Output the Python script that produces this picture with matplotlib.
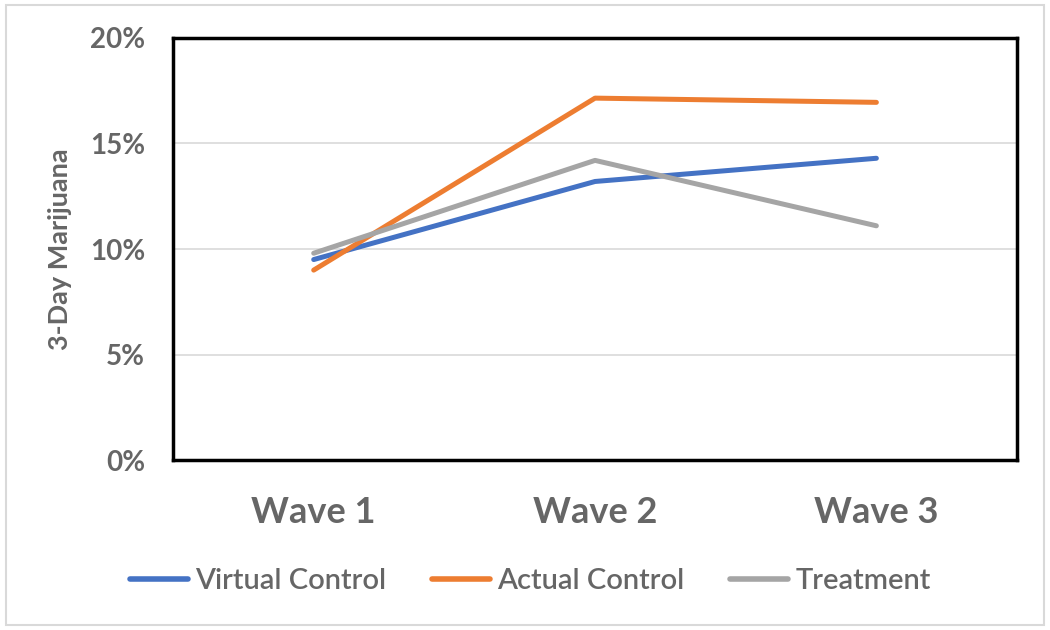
import matplotlib
matplotlib.use("Agg")
from matplotlib import pyplot as plt
from matplotlib.patches import Rectangle
from matplotlib.ticker import FuncFormatter

plt.rcParams['font.family'] = ['Lato', 'DejaVu Sans']

# data
waves = ['Wave 1', 'Wave 2', 'Wave 3']
virtual_control = [9.5, 13.2, 14.3]
actual_control = [9.0, 17.15, 16.95]
treatment = [9.8, 14.2, 11.1]

series_names = ['Virtual Control', 'Actual Control', 'Treatment']
colors = ['#4472C4', '#ED7D31', '#A5A5A5']
text_gray = '#666666'

fig = plt.figure(figsize=(10.5, 6.3), dpi=100)
ax = fig.add_axes([0.1648, 0.2698, 0.8038, 0.6699])

x = range(len(waves))
for vals, name, c in zip([virtual_control, actual_control, treatment], series_names, colors):
    ax.plot(x, vals, color=c, lw=3.6, label=name, solid_capstyle='round')

ax.set_xlim(-0.5, 2.5)
ax.set_ylim(0, 20)
ax.set_yticks([0, 5, 10, 15, 20])
ax.yaxis.set_major_formatter(FuncFormatter(lambda v, p: f'{v:.0f}%'))
ax.set_xticks(list(x))
ax.set_xticklabels(waves)
ax.grid(axis='y', color='#D9D9D9', lw=1.2)
ax.set_axisbelow(True)
ax.tick_params(axis='both', length=0)
ax.tick_params(axis='y', labelsize=20, labelcolor=text_gray, pad=20)
ax.tick_params(axis='x', labelsize=26, labelcolor=text_gray, pad=26)
for lab in ax.get_xticklabels() + ax.get_yticklabels():
    lab.set_fontweight('bold')

for s in ax.spines.values():
    s.set_color('black')
    s.set_linewidth(2.5)

ax.set_ylabel('3-Day Marijuana', fontsize=19.5, color=text_gray, fontweight='bold')
ax.yaxis.set_label_coords(-0.1197, 0.5)

leg = fig.legend(loc='center', bbox_to_anchor=(0.505, 0.078), ncol=3, frameon=False,
                 prop={'size': 21, 'weight': 'semibold'},
                 handlelength=2.0, columnspacing=1.55, handletextpad=0.25)
for t in leg.get_texts():
    t.set_color(text_gray)
for h in leg.get_lines():
    h.set_linewidth(4)

# light outer border of the chart area
fig.patches.append(Rectangle((0.006, 0.008), 0.988, 0.984, transform=fig.transFigure,
                             fill=False, edgecolor='#D9D9D9', lw=1.5))

fig.savefig('out.png', dpi=100)
